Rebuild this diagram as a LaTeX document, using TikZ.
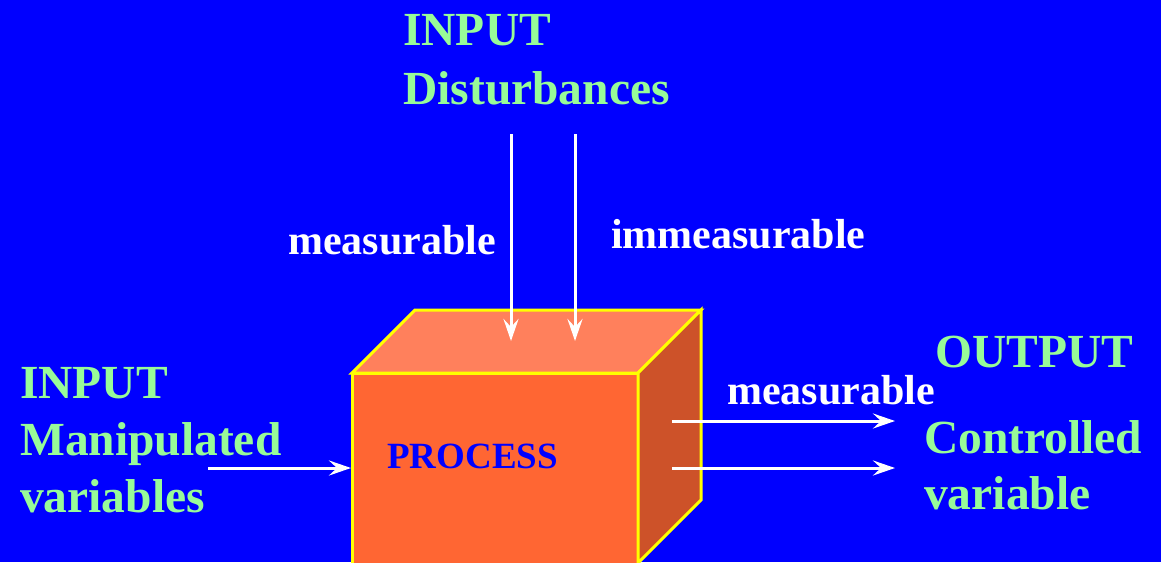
\documentclass[tikz,border=0pt]{standalone}
\usepackage{fontspec}
\setmainfont{Liberation Serif}
\usetikzlibrary{arrows.meta}
\definecolor{bg}{RGB}{0,0,255}
\definecolor{lgreen}{RGB}{152,251,152}
\definecolor{cfront}{RGB}{255,102,51}
\definecolor{ctop}{RGB}{255,128,92}
\definecolor{cside}{RGB}{205,82,41}
\definecolor{cyel}{RGB}{255,255,0}
\tikzset{
  big/.style={text=lgreen, font=\bfseries\fontsize{47.5}{58}\selectfont, inner sep=0pt, anchor=base west, align=left},
  lbl/.style={text=white, font=\bfseries\fontsize{42}{50}\selectfont, inner sep=0pt, anchor=base west},
  face/.style={draw=cyel, line width=3pt, line join=miter},
  arr/.style={draw=white, line width=3pt, -{Stealth[length=22pt,width=15pt,inset=8pt]}}
}
\begin{document}
\begin{tikzpicture}[x=1pt,y=-1pt]
\useasboundingbox (0,0) rectangle (1161,562);
\fill[bg] (0,0) rectangle (1161,562);
% cube
\filldraw[face, fill=cfront] (352,373) -- (638,373) -- (638,580) -- (352,580) -- cycle;
\filldraw[face, fill=ctop] (352,373) -- (415,310) -- (701,310) -- (638,373) -- cycle;
\filldraw[face, fill=cside] (638,373) -- (701,310) -- (701,500) -- (638,563) -- cycle;
\node[inner sep=0pt, anchor=base west, text=bg, font=\bfseries\fontsize{37}{44}\selectfont] (proc) at (387,468) {PROCESS};
% texts
\node[big] (inTop1) at (403,45) {INPUT};
\node[big] (inTop2) at (403,104) {Disturbances};
\node[big] (inL1) at (20,398) {INPUT};
\node[big] (inL2) at (20,455) {Manipulated};
\node[big] (inL3) at (20,512) {variables};
\node[big] (out1) at (935,367) {OUTPUT};
\node[big] (out2) at (924,453) {Controlled};
\node[big] (out3) at (924,509) {variable};
\node[lbl] (m1) at (288,254) {measurable};
\node[lbl] (m2) at (611,248) {immeasurable};
\node[lbl] (m3) at (727,404) {measurable};
% arrow endpoints
\coordinate (d1s) at (511,134); \coordinate (d1e) at (511,341);
\coordinate (d2s) at (575,134); \coordinate (d2e) at (575,341);
\coordinate (ls) at (208,468); \coordinate (le) at (351,468);
\coordinate (r1s) at (672,421); \coordinate (r1e) at (895,421);
\coordinate (r2s) at (672,468); \coordinate (r2e) at (895,468);
\draw[arr] (d1s) -- (d1e);
\draw[arr] (d2s) -- (d2e);
\draw[arr] (ls) -- (le);
\draw[arr] (r1s) -- (r1e);
\draw[arr] (r2s) -- (r2e);
\end{tikzpicture}
\end{document}
